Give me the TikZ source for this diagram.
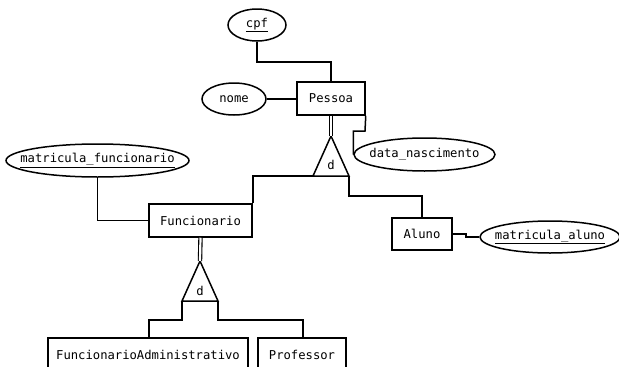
\documentclass[tikz,border=0pt]{standalone}
\usepackage{fontspec}
\setmonofont{DejaVu Sans Mono}
\usetikzlibrary{shapes.geometric}
\begin{document}
\begin{tikzpicture}[x=1pt,y=-1pt,line width=1.5pt,
  txt/.style={font=\ttfamily\fontsize{12.2}{14}\selectfont},
  ent/.style={draw,rectangle,inner sep=0pt,txt},
  att/.style={draw,ellipse,inner sep=0pt},
  lbl/.style={txt,inner sep=0pt},
  dbl/.style={double,double distance=2.2pt,line width=1.1pt}]
\useasboundingbox (0,0) rectangle (619,367);
\clip (0,0) rectangle (619,367);
% entities
\node[ent,minimum width=68pt,minimum height=33pt] (pessoa) at (331,98.5) {Pessoa};
\node[ent,minimum width=103pt,minimum height=33pt] (func) at (200.5,220.5) {Funcionario};
\node[ent,minimum width=60pt,minimum height=32pt] (aluno) at (422,234) {Aluno};
\node[ent,minimum width=200pt,minimum height=33pt] (fa) at (148,354.5) {FuncionarioAdministrativo};
\node[ent,minimum width=88pt,minimum height=33pt] (prof) at (302,354.5) {Professor};
% attributes
\node[att,minimum width=58pt,minimum height=32pt,label={[lbl]center:\underline{cpf}}] (cpf) at (257,25) {};
\node[att,minimum width=64pt,minimum height=32pt,label={[lbl]center:nome}] (nome) at (234,99) {};
\node[att,minimum width=141pt,minimum height=33pt,label={[lbl]center:data\_nascimento}] (dn) at (424.5,154.5) {};
\node[att,minimum width=183pt,minimum height=33pt,label={[lbl]center:\underline{matricula\_funcionario}}] (mf) at (97.5,160.5) {};
\node[att,minimum width=140pt,minimum height=32pt,label={[lbl]center:\underline{matricula\_aluno}}] (ma) at (550,237) {};
% specialization triangles
\coordinate (t1a) at (331,136);
\coordinate (t1l) at (313,176);
\coordinate (t1r) at (349,176);
\draw[line join=miter] (t1a) -- (t1l) -- (t1r) -- cycle;
\node[lbl] (d1) at (331,165) {d};
\coordinate (t2a) at (200,261);
\coordinate (t2l) at (182,301);
\coordinate (t2r) at (218,301);
\draw[line join=miter] (t2a) -- (t2l) -- (t2r) -- cycle;
\node[lbl] (d2) at (200,291) {d};
% connectors
\draw (cpf.south) |- (257,62) -| (pessoa.north);
\draw (nome.east) -- (pessoa.west |- nome.east);
\draw (pessoa.south east) -- (365,131) -| (dn.west);
\draw[dbl] (pessoa.south) -- (t1a);
\draw (t1l) -| (func.north east);
\draw (t1r) |- (422,196) -| (aluno.north);
\draw (aluno.east) -| (466,237) -- (ma.west);
\draw (mf.south) |- (func.west);
\draw[dbl] (func.south) -- (t2a);
\draw (t2l) |- (149,320) -- (149,338);
\draw (t2r) |- (303,320) -- (303,338);
\end{tikzpicture}
\end{document}
